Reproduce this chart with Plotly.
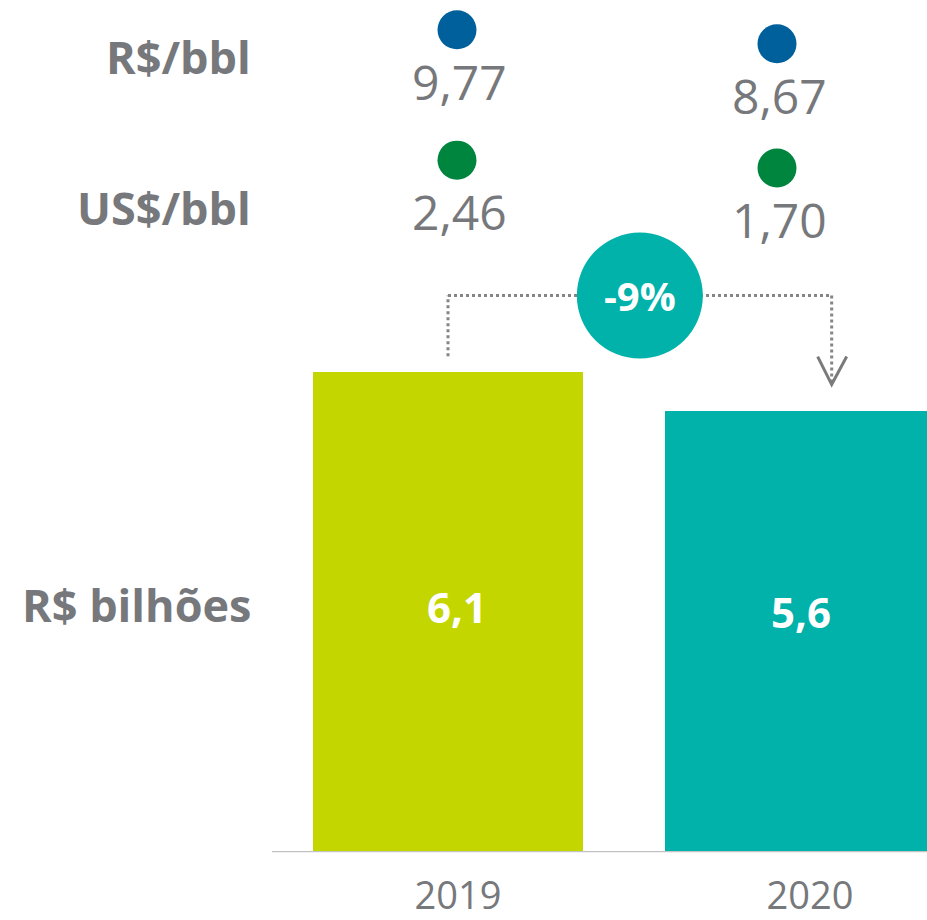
import plotly.graph_objects as go

# --- data -------------------------------------------------------------
years = ["2019", "2020"]
custo_bilhoes = [6.1, 5.6]          # R$ bilhões
custo_rs_bbl = [9.77, 8.67]         # R$/bbl
custo_us_bbl = [2.46, 1.70]         # US$/bbl
variacao_txt = "-9%"
row_titles = ["R$/bbl", "US$/bbl", "R$ bilhões"]

# --- style ------------------------------------------------------------
GRAY = "#76787b"
LIME = "#c4d600"
TEAL = "#00b2a9"
BLUE = "#00609c"
GREEN = "#00853f"
DOT_GRAY = "#858585"
FONT = "Open Sans"

W, H = 927, 920


def fmt(v, nd):
    return f"{v:.{nd}f}".replace(".", ",")


fig = go.Figure()

# bars
fig.add_trace(go.Bar(
    x=years, y=custo_bilhoes,
    marker=dict(color=[LIME, TEAL], line=dict(width=0)),
    width=0.767,
    xaxis="x", yaxis="y",
    hoverinfo="skip",
))

# unit-cost dots
fig.add_trace(go.Scatter(
    x=years, y=custo_rs_bbl, mode="markers",
    marker=dict(color=BLUE, size=39, line=dict(width=0)),
    xaxis="x2", yaxis="y2", hoverinfo="skip",
))
fig.add_trace(go.Scatter(
    x=years, y=custo_us_bbl, mode="markers",
    marker=dict(color=GREEN, size=39, line=dict(width=0)),
    xaxis="x2", yaxis="y3", hoverinfo="skip",
))

annotations = []

# value labels under the dots
for i, v in enumerate(custo_rs_bbl):
    annotations.append(dict(
        x=i, y=v, xref="x2", yref="y2", text=fmt(v, 2), showarrow=False,
        yshift=-52, xshift=2, font=dict(family=FONT, size=48, color=GRAY),
    ))
for i, v in enumerate(custo_us_bbl):
    annotations.append(dict(
        x=i, y=v, xref="x2", yref="y3", text=fmt(v, 2), showarrow=False,
        yshift=-51, xshift=2, font=dict(family=FONT, size=48, color=GRAY),
    ))

# value labels inside the bars
for i, v in enumerate(custo_bilhoes):
    annotations.append(dict(
        x=i, y=3.1, xref="x", yref="y", text=f"<b>{fmt(v, 1)}</b>",
        showarrow=False, xshift=9 if i == 0 else 1,
        yshift=2 if i == 0 else -3,
        font=dict(family=FONT, size=42, color="white"),
    ))

# row titles on the left
for txt, yp in zip(row_titles, [57, 209, 608]):
    annotations.append(dict(
        x=253 / W, y=1 - yp / H, xref="paper", yref="paper",
        xanchor="right", yanchor="middle", showarrow=False,
        text=f"<b>{txt}</b>", font=dict(family=FONT, size=45, color=GRAY),
    ))

# variation badge text
Y_LINK = 7.07
annotations.append(dict(
    x=0.545, y=Y_LINK, xref="x", yref="y", text=f"<b>{variacao_txt}</b>",
    showarrow=False, font=dict(family=FONT, size=40, color="white"),
))

shapes = [
    # baseline
    dict(type="line", xref="x", yref="y", x0=-0.5, x1=1.45, y0=0, y1=0,
         line=dict(color="#c3c3c3", width=2.5), layer="above"),
    # dotted connector 2019 -> 2020
    dict(type="line", xref="x", yref="y", x0=0, x1=0,
         y0=custo_bilhoes[0] + 0.2, y1=Y_LINK,
         line=dict(color=DOT_GRAY, width=3, dash="dot")),
    dict(type="line", xref="x", yref="y", x0=0, x1=1.09, y0=Y_LINK, y1=Y_LINK,
         line=dict(color=DOT_GRAY, width=3, dash="dot")),
    dict(type="line", xref="x", yref="y", x0=1.09, x1=1.09,
         y0=Y_LINK, y1=custo_bilhoes[1] + 0.38,
         line=dict(color=DOT_GRAY, width=3, dash="dot")),
    # open arrow head
    dict(type="path", xref="x", yref="y", xsizemode="pixel", ysizemode="pixel",
         xanchor=1.09, yanchor=custo_bilhoes[1] + 0.34,
         path="M-14,28 L0,0 L15,28",
         line=dict(color="#7a7a7a", width=3)),
    # variation badge
    dict(type="circle", xref="x", yref="y", xsizemode="pixel", ysizemode="pixel",
         xanchor=0.545, yanchor=Y_LINK, x0=-63, x1=63, y0=-63, y1=63,
         fillcolor=TEAL, line=dict(width=0)),
]

# bar axis: category 0 at x=448px, 352px per category; 0 at y=857px
PX_PER_CAT = 352.0
Y_SCALE = 483 / custo_bilhoes[0]
fig.update_layout(
    width=W, height=H,
    margin=dict(l=0, r=0, t=0, b=0),
    paper_bgcolor="white", plot_bgcolor="rgba(0,0,0,0)",
    showlegend=False,
    bargap=0,
    xaxis=dict(
        domain=[0, 1], type="category", categoryorder="array",
        categoryarray=years,
        range=[-448 / PX_PER_CAT, (W - 448) / PX_PER_CAT],
        showgrid=False, zeroline=False, showline=False, ticks="",
        tickfont=dict(family=FONT, size=38, color=GRAY),
        ticklabelstandoff=18, ticklabelshift=10,
        fixedrange=True,
    ),
    yaxis=dict(
        domain=[(H - 857) / H, 1], range=[0, 857 / Y_SCALE],
        visible=False, fixedrange=True,
    ),
    xaxis2=dict(
        domain=[0, 1], type="category", categoryorder="array",
        categoryarray=years, anchor="y2",
        range=[-457 / 320.0, (W - 457) / 320.0],
        visible=False, fixedrange=True,
    ),
    yaxis2=dict(
        domain=[0, 1], anchor="x2",
        range=[9.77 + 30 / 12.7 - H / 12.7, 9.77 + 30 / 12.7],
        visible=False, fixedrange=True,
    ),
    yaxis3=dict(
        domain=[0, 1], anchor="x2", overlaying="y2",
        range=[2.46 + 161 / 10.5 - H / 10.5, 2.46 + 161 / 10.5],
        visible=False, fixedrange=True,
    ),
    annotations=annotations,
    shapes=shapes,
)

fig.write_html("out.html")
